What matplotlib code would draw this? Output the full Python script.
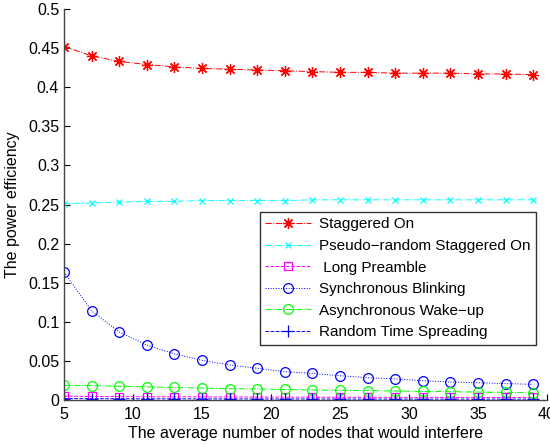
import matplotlib
matplotlib.use("Agg")
import matplotlib.pyplot as plt
from matplotlib.ticker import FuncFormatter

plt.rcParams['font.family'] = ['Liberation Sans', 'DejaVu Sans']

x = [5, 7, 9, 11, 13, 15, 17, 19, 21, 23, 25, 27, 29, 31, 33, 35, 37, 39]
staggered = [0.452, 0.440, 0.433, 0.429, 0.426, 0.424, 0.423, 0.422, 0.421,
             0.420, 0.419, 0.419, 0.418, 0.418, 0.418, 0.417, 0.417, 0.416]
pseudo = [0.251, 0.252, 0.253, 0.254, 0.254, 0.255, 0.255, 0.255, 0.255,
          0.256, 0.256, 0.256, 0.256, 0.256, 0.256, 0.256, 0.256, 0.256]
long_pre = [0.005, 0.0045, 0.0043, 0.0042, 0.0041, 0.004, 0.0039, 0.0038, 0.0037,
            0.0036, 0.0035, 0.0035, 0.0034, 0.0034, 0.0033, 0.0033, 0.0032, 0.0032]
sync = [0.1637, 0.1138, 0.087, 0.0703, 0.059, 0.0507, 0.0448, 0.0405, 0.0362,
        0.034, 0.031, 0.0285, 0.027, 0.0247, 0.023, 0.022, 0.021, 0.020]
async_w = [0.0188, 0.0184, 0.0175, 0.0168, 0.016, 0.0153, 0.0145, 0.014, 0.0135,
           0.0128, 0.0124, 0.012, 0.0115, 0.011, 0.0106, 0.0102, 0.0098, 0.0093]
random_ts = [0.0018, 0.0017, 0.0016, 0.0015, 0.0015, 0.0014, 0.0014, 0.0013, 0.0013,
             0.0013, 0.0012, 0.0012, 0.0012, 0.0011, 0.0011, 0.0011, 0.0011, 0.001]

labels = ['Staggered On', 'Pseudo\u2212random Staggered On', ' Long Preamble',
          'Synchronous Blinking', 'Asynchronous Wake\u2212up', 'Random Time Spreading']

fig = plt.figure(figsize=(5.5, 4.44), dpi=100)
ax = fig.add_axes([0.1164, 0.0991, 0.878, 0.8806])

lw = 0.7
ax.plot(x, staggered, color='#ff0000', linestyle='-.', marker=(8, 2, 0), markersize=8,
        markeredgewidth=0.9, lw=lw, label=labels[0])
ax.plot(x, pseudo, color='#00ffff', linestyle='-.', marker='x', markersize=5,
        markeredgewidth=0.9, lw=lw, label=labels[1])
ax.plot(x, long_pre, color='#ff00ff', linestyle='--', marker='s', markersize=6, lw=lw,
        markeredgewidth=0.9, markerfacecolor='none', label=labels[2])
ax.plot(x, sync, color='#0000ff', linestyle=':', marker='o', markersize=7, lw=lw,
        markeredgewidth=0.9, markerfacecolor='none', label=labels[3])
ax.plot(x, async_w, color='#00ff00', linestyle='-.', marker='o', markersize=7, lw=lw,
        markeredgewidth=0.9, markerfacecolor='none', label=labels[4])
ax.plot(x, random_ts, color='#0000ff', linestyle='--', marker='+', markersize=8,
        markeredgewidth=0.9, lw=lw, label=labels[5])

ax.set_xlim(5, 40)
ax.set_ylim(0, 0.5)
ax.set_xticks([5, 10, 15, 20, 25, 30, 35, 40])
ax.set_yticks([0, 0.05, 0.1, 0.15, 0.2, 0.25, 0.3, 0.35, 0.4, 0.45, 0.5])
ax.yaxis.set_major_formatter(FuncFormatter(lambda v, p: '%g' % round(v, 2)))
ax.tick_params(direction='in', labelsize=11.5, length=4, colors='#000000')
ax.tick_params(axis='x', pad=5)
for s in ['top', 'right']:
    ax.spines[s].set_visible(False)
for s in ['left', 'bottom']:
    ax.spines[s].set_color('#444444')
    ax.spines[s].set_linewidth(1.0)

ax.set_xlabel('The average number of nodes that would interfere', fontsize=11.5, labelpad=3)
ax.set_ylabel('The power efficiency', fontsize=11.5, labelpad=6)

leg = ax.legend(loc='upper right', bbox_to_anchor=(0.977, 0.481), fontsize=11,
                frameon=True, fancybox=False, edgecolor='black', handlelength=3.0,
                borderpad=0.35, labelspacing=0.5, handletextpad=0.5, borderaxespad=0)
leg.get_frame().set_linewidth(1.0)

fig.savefig('out.png', dpi=100)
